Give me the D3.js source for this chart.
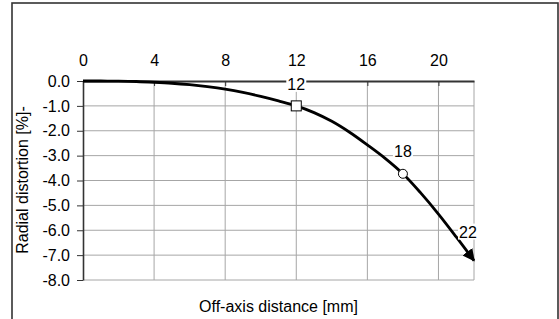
<!DOCTYPE html>
<html><head><meta charset="utf-8">
<script src="https://cdn.jsdelivr.net/npm/d3@7"></script>
<style>body{margin:0;background:#fff}svg{display:block}text{font-family:"Liberation Sans",Arial,sans-serif;fill:#000}</style>
</head><body><svg id="c" width="559" height="319"></svg>
<script>
const offAxis = [0,1,2,3,4,5,6,7,8,9,10,11,12,13,14,15,16,17,18,19,20,21,22];
const distortion = [0,0,-0.005,-0.02,-0.05,-0.09,-0.15,-0.23,-0.33,-0.46,-0.62,-0.8,-1.0,-1.27,-1.62,-2.06,-2.57,-3.11,-3.73,-4.5,-5.35,-6.27,-7.22];
const xTicks = [0,4,8,12,16,20];
const yTicks = [0,-1,-2,-3,-4,-5,-6,-7,-8];
const labelled = [12,18,22];
const markerKinds = ["square","circle","arrow"];

const svg = d3.select("#c");
const L=83,R=474,T=81,B=280;
const x = d3.scaleLinear().domain([0,22]).range([L,R]);
const y = d3.scaleLinear().domain([0,-8]).range([T,B]);
const FS = "16px";

svg.append("rect").attr("x",12).attr("y",3).attr("width",546).attr("height",340)
  .attr("fill","#fff").attr("stroke","#333").attr("stroke-width",1.6);

// gridlines
const g = svg.append("g");
g.selectAll(".vg").data(xTicks.slice(1)).join("line")
  .attr("x1",d=>x(d)).attr("x2",d=>x(d)).attr("y1",T).attr("y2",B)
  .attr("stroke","#a6a6a6").attr("stroke-width",1);
g.selectAll(".hg").data(yTicks.slice(1)).join("line")
  .attr("x1",L).attr("x2",R).attr("y1",d=>y(d)).attr("y2",d=>y(d))
  .attr("stroke","#a6a6a6").attr("stroke-width",1);
g.append("line").attr("x1",R).attr("x2",R).attr("y1",T).attr("y2",B).attr("stroke","#a6a6a6");

// axes
const xAxis = svg.append("g").attr("transform",`translate(0,${T})`)
  .call(d3.axisTop(x).tickValues(xTicks).tickSizeInner(-5).tickSizeOuter(0).tickPadding(15));
xAxis.select(".domain").attr("stroke","#333").attr("stroke-width",2);
xAxis.selectAll(".tick line").attr("stroke","#333");
xAxis.selectAll("text").style("font-size",FS).attr("fill","#000");

const yAxis = svg.append("g").attr("transform",`translate(${L},0)`)
  .call(d3.axisLeft(y).tickValues(yTicks).tickFormat(d=>d3.format(".1f")(d).replace("\u2212","-")).tickSizeInner(6).tickSizeOuter(0).tickPadding(7));
yAxis.select(".domain").attr("stroke","#333").attr("stroke-width",1.6);
yAxis.selectAll(".tick line").attr("stroke","#333");
yAxis.selectAll("text").style("font-size",FS).attr("fill","#000");

// curve
const pts = offAxis.map((d,i)=>[d,distortion[i]]);
svg.append("defs").append("marker").attr("id","arr").attr("viewBox","0 0 10 10")
  .attr("refX",9).attr("refY",5).attr("markerWidth",4.4).attr("markerHeight",4.4)
  .attr("orient","auto").attr("markerUnits","strokeWidth")
  .append("path").attr("d","M0,0L10,5L0,10Z").attr("fill","#000");
svg.append("path").datum(pts)
  .attr("d",d3.line().x(d=>x(d[0])).y(d=>y(d[1])).curve(d3.curveCatmullRom))
  .attr("fill","none").attr("stroke","#000").attr("stroke-width",2.8)
  .attr("marker-end","url(#arr)");

// markers
labelled.forEach((v,i)=>{
  const val = distortion[offAxis.indexOf(v)];
  const px=x(v), py=y(val);
  if(markerKinds[i]==="square"){
    svg.append("rect").attr("x",px-5).attr("y",py-5).attr("width",10).attr("height",10)
      .attr("fill","#fff").attr("stroke","#000").attr("stroke-width",1);
  } else if(markerKinds[i]==="circle"){
    svg.append("circle").attr("cx",px).attr("cy",py).attr("r",4.5)
      .attr("fill","#fff").attr("stroke","#000").attr("stroke-width",1);
  }
});

// data labels with white background
const labOff = {12:[0,-22],18:[0,-23],22:[-6,-29]};
labelled.forEach(v=>{
  const val = distortion[offAxis.indexOf(v)];
  const [dx,dy]=labOff[v];
  const cx=x(v)+dx, cy=y(val)+dy;
  svg.append("rect").attr("x",cx-10).attr("y",cy-8).attr("width",20).attr("height",16).attr("fill","#fff");
  svg.append("text").attr("x",cx).attr("y",cy+6).attr("text-anchor","middle")
    .style("font-size",FS).text(v);
});

svg.append("text").attr("x",(L+R)/2).attr("y",312).attr("text-anchor","middle")
  .style("font-size",FS).text("Off-axis distance [mm]");
svg.append("text").attr("transform","translate(28,180) rotate(-90)").attr("text-anchor","middle")
  .style("font-size",FS).text("Radial distortion [%]-");
</script></body></html>
